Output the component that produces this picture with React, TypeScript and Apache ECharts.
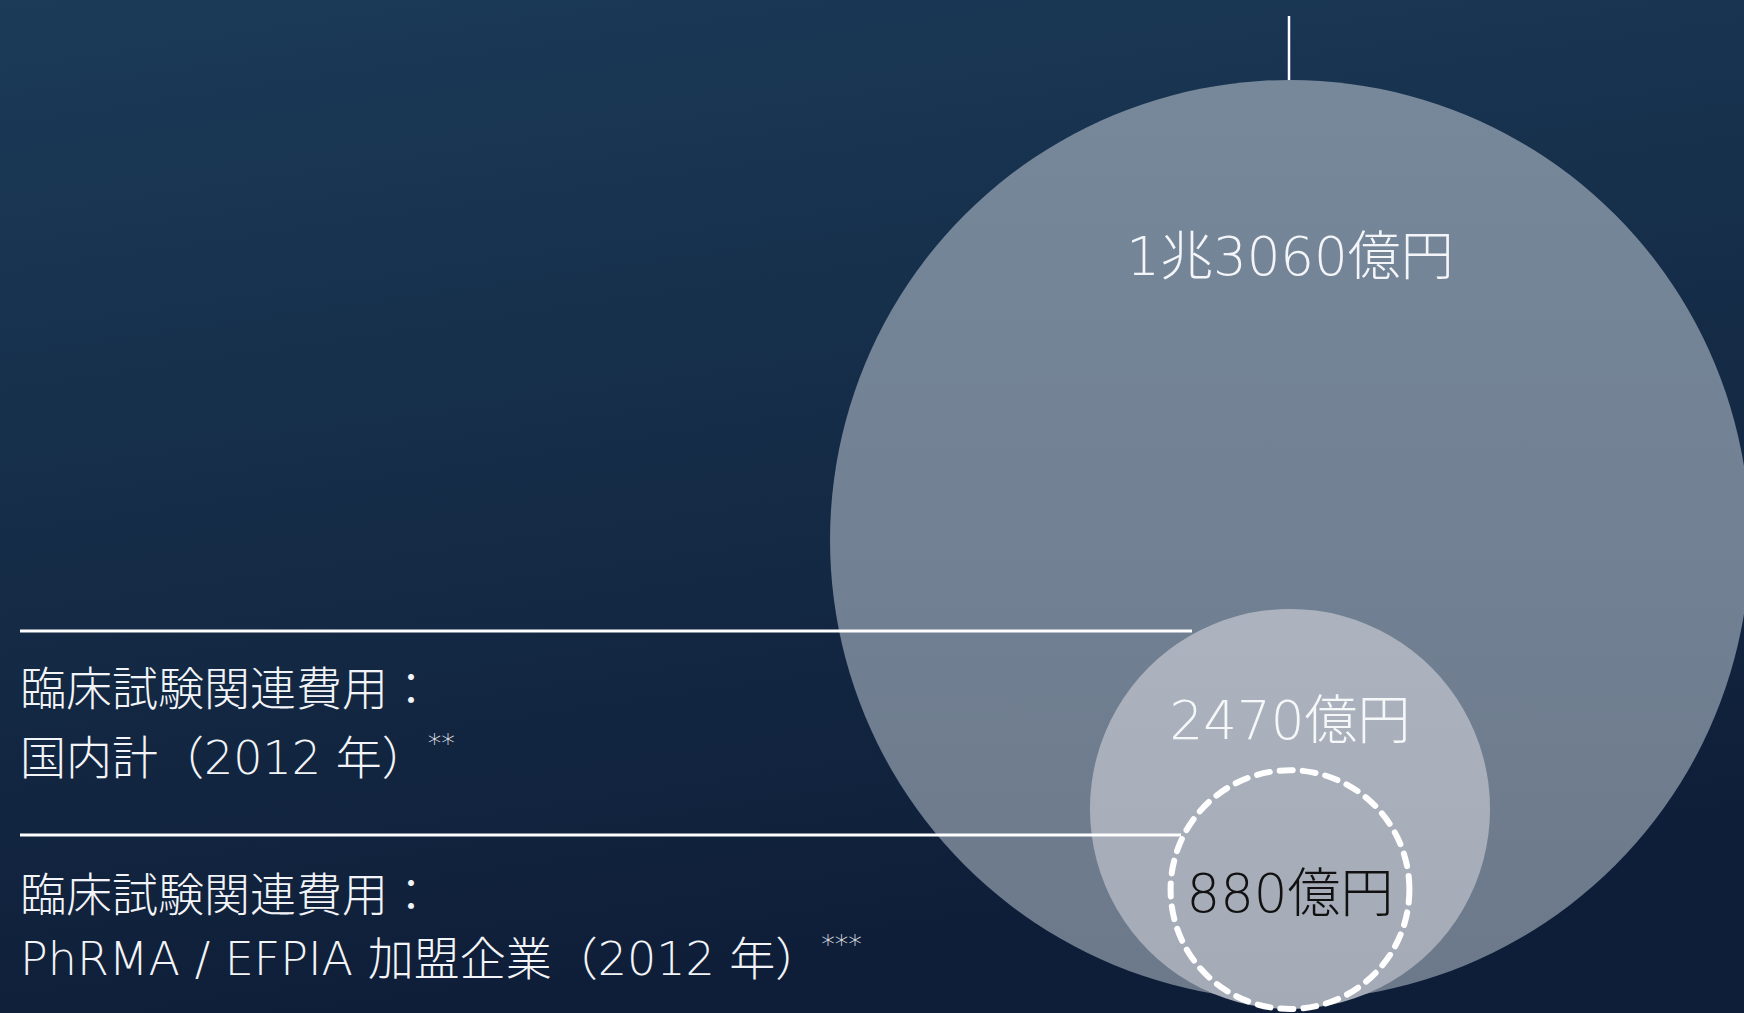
import React, { useEffect, useRef } from "react";
import * as echarts from "echarts";

// ---- data (億円) ----
const CATEGORIES = ["臨床試験関連費用：全体", "臨床試験関連費用：国内計（2012 年）", "臨床試験関連費用：PhRMA / EFPIA 加盟企業（2012 年）"];
const VALUES = [13060, 2470, 880];
const VALUE_LABELS = ["1兆3060億円", "2470億円", "880億円"];

const NOTE_A_LINES = ["臨床試験関連費用：", "国内計（2012 年）"];
const NOTE_A_MARK = "**";
const NOTE_B_LINES = ["臨床試験関連費用：", "PhRMA / EFPIA 加盟企業（2012 年）"];
const NOTE_B_MARK = "***";

// ---- layout ----
const W = 1744;
const H = 1013;
const CX = 1290;
const K = 4.025; // px of radius per sqrt(億円)
const BOTTOM = [1000, 1009, 1009];
const LABEL_OFFSET = [-284, -88, 4];
const FONT = "'DejaVu Sans', 'Noto Sans CJK JP', sans-serif";
const TEXT_COLOR = "#f2f4f7";

export default function App() {
  const ref = useRef<HTMLDivElement>(null);

  useEffect(() => {
    document.body.style.margin = "0";
    const chart = echarts.init(ref.current!, null, { renderer: "svg", width: W, height: H });

    const radii = VALUES.map((v) => K * Math.sqrt(v));
    const centersY = radii.map((r, i) => BOTTOM[i] - r);

    const itemStyles = [
      {
        opacity: 1,
        color: new echarts.graphic.LinearGradient(0, 0, 0, 1, [
          { offset: 0, color: "#77889b" },
          { offset: 1, color: "#6c798b" },
        ]),
      },
      {
        opacity: 1,
        color: new echarts.graphic.LinearGradient(0, 0, 0, 1, [
          { offset: 0, color: "#acb3be" },
          { offset: 1, color: "#a4abb6" },
        ]),
      },
      {
        opacity: 1,
        color: "rgba(0,0,0,0)",
        borderColor: "#ffffff",
        borderWidth: 6,
        borderType: [13, 10],
        borderCap: "round",
      },
    ];
    const labelColors = ["#f3f5f8", "#f6f7f9", "#111111"];

    const data = VALUES.map((v, i) => ({
      name: CATEGORIES[i],
      value: [CX, centersY[i], v],
      symbolSize: radii[i] * 2,
      itemStyle: itemStyles[i],
      label: {
        show: true,
        position: "inside",
        offset: [0, LABEL_OFFSET[i]],
        formatter: VALUE_LABELS[i],
        color: labelColors[i],
        fontSize: 53,
        fontWeight: 200,
        fontFamily: FONT,
      },
    }));

    const textStyle = {
      fill: TEXT_COLOR,
      fontSize: 46,
      fontWeight: 200,
      fontFamily: FONT,
    };
    const rich = {
      t: { fontSize: 46, fontWeight: 200, fontFamily: FONT, fill: TEXT_COLOR, lineHeight: 56, verticalAlign: "middle" },
      s: { fontSize: 27, fontWeight: 200, fontFamily: FONT, fill: TEXT_COLOR, verticalAlign: "top", lineHeight: 56, padding: [0, 0, 0, 0] },
    };

    const bigTop = centersY[0] - radii[0];

    chart.setOption({
      animation: false,
      backgroundColor: new echarts.graphic.LinearGradient(0, 0, 0.25, 1, [
        { offset: 0, color: "#1b3b58" },
        { offset: 1, color: "#0f1e38" },
      ]),
      grid: { left: 0, right: 0, top: 0, bottom: 0 },
      xAxis: { type: "value", min: 0, max: W, show: false },
      yAxis: { type: "value", min: 0, max: H, inverse: true, show: false },
      series: [
        {
          type: "scatter",
          symbol: "circle",
          silent: true,
          emphasis: { disabled: true },
          data,
          z: 2,
        },
      ],
      graphic: [
        { type: "line", z: 10, shape: { x1: 1289, y1: 16, x2: 1289, y2: bigTop }, style: { stroke: "#ffffff", lineWidth: 2.5 } },
        { type: "line", z: 10, shape: { x1: 20, y1: 631, x2: 1192, y2: 631 }, style: { stroke: "#ffffff", lineWidth: 3 } },
        { type: "line", z: 10, shape: { x1: 20, y1: 835, x2: 1181, y2: 835 }, style: { stroke: "#ffffff", lineWidth: 3 } },
        { type: "text", z: 10, x: 20, y: 689, style: { ...textStyle, text: NOTE_A_LINES[0], verticalAlign: "middle" } },
        {
          type: "text",
          z: 10,
          x: 20,
          y: 758,
          style: { text: `{t|${NOTE_A_LINES[1]}}{s|${NOTE_A_MARK}}`, rich, fill: TEXT_COLOR, verticalAlign: "middle" },
        },
        { type: "text", z: 10, x: 20, y: 895, style: { ...textStyle, text: NOTE_B_LINES[0], verticalAlign: "middle" } },
        {
          type: "text",
          z: 10,
          x: 20,
          y: 959,
          style: { text: `{t|${NOTE_B_LINES[1]}}{s|${NOTE_B_MARK}}`, rich, fill: TEXT_COLOR, verticalAlign: "middle" },
        },
      ],
    });

    return () => chart.dispose();
  }, []);

  return <div ref={ref} style={{ position: "absolute", left: 0, top: 0, width: W, height: H }} />;
}
